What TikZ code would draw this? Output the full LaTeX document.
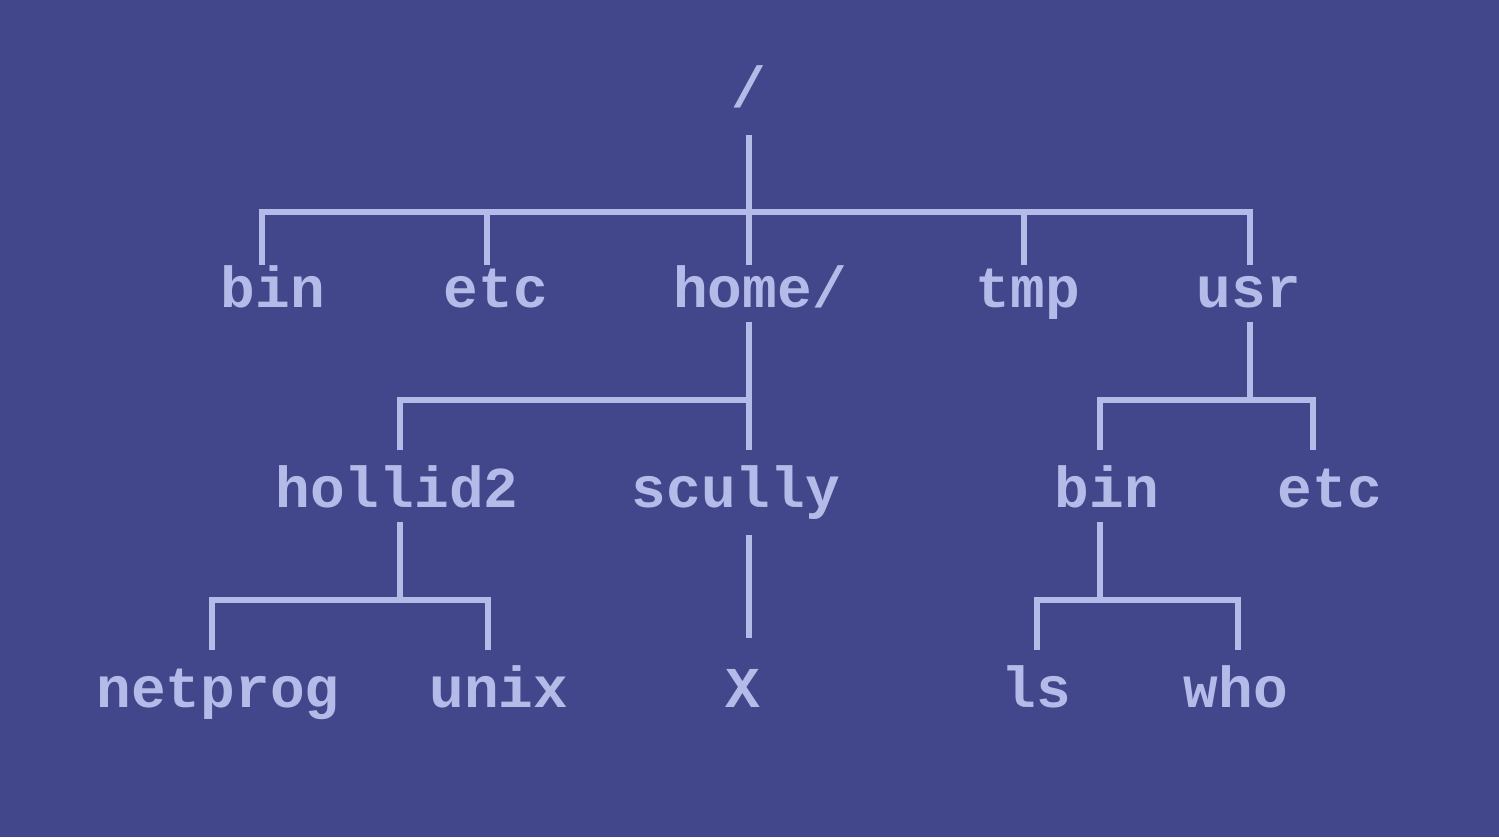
\documentclass[tikz,border=0pt]{standalone}
\usepackage{fontspec}
\setmainfont{Liberation Mono}
\definecolor{bgc}{RGB}{66,70,138}
\definecolor{fgc}{RGB}{180,187,232}
\tikzset{
  lbl/.style={anchor=base, inner sep=0pt, text=fgc, font=\fontsize{28.9}{30}\selectfont\bfseries},
  conn/.style={draw=fgc, line width=2.8pt, line join=miter, line cap=butt}
}
\begin{document}
\begin{tikzpicture}[x=0.5pt, y=-0.5pt]
\fill[bgc] (0,0) rectangle (1499,837);
\useasboundingbox (0,0) rectangle (1499,837);
% labels
\node[lbl] (root) at (749,107) {/};
\node[lbl] (bin) at (273,307) {bin};
\node[lbl] (etc) at (496,307) {etc};
\node[lbl] (home) at (760,307) {home/};
\node[lbl] (tmp) at (1028,307) {tmp};
\node[lbl] (usr) at (1249,307) {usr};
\node[lbl] (hollid) at (397,507) {hollid2};
\node[lbl] (scully) at (736,507) {scully};
\node[lbl] (ubin) at (1107,507) {bin};
\node[lbl] (uetc) at (1330,507) {etc};
\node[lbl] (netprog) at (218,707) {netprog};
\node[lbl] (unix) at (499,707) {unix};
\node[lbl] (X) at (743,707) {X};
\node[lbl] (ls) at (1036,707) {ls};
\node[lbl] (who) at (1236,707) {who};
% connector ends
\coordinate (root-o) at (749,135);
\coordinate (root-j) at (749,212);
\coordinate (bin-i) at (262,265);
\coordinate (etc-i) at (487,265);
\coordinate (home-i) at (749,265);
\coordinate (tmp-i) at (1024,265);
\coordinate (usr-i) at (1250,265);
\coordinate (home-o) at (749,322);
\coordinate (home-j) at (749,400);
\coordinate (hollid-i) at (400,450);
\coordinate (scully-i) at (749,450);
\coordinate (usr-o) at (1250,322);
\coordinate (usr-j) at (1250,400);
\coordinate (ubin-i) at (1100,450);
\coordinate (uetc-i) at (1313,450);
\coordinate (hollid-o) at (400,522);
\coordinate (hollid-j) at (400,600);
\coordinate (netprog-i) at (212,650);
\coordinate (unix-i) at (488,650);
\coordinate (scully-o) at (749,535);
\coordinate (X-i) at (749,638);
\coordinate (ubin-o) at (1100,522);
\coordinate (ubin-j) at (1100,600);
\coordinate (ls-i) at (1037,650);
\coordinate (who-i) at (1238,650);
% connectors
\draw[conn] (root-o) -- (root-j);
\draw[conn] (bin-i) |- (root-j) -| (usr-i);
\draw[conn] (etc-i) -- (etc-i |- root-j);
\draw[conn] (home-i) -- (root-j);
\draw[conn] (tmp-i) -- (tmp-i |- root-j);
\draw[conn] (home-o) -- (scully-i);
\draw[conn] (hollid-i) |- (home-j);
\draw[conn] (usr-o) -- (usr-j);
\draw[conn] (ubin-i) |- (usr-j) -| (uetc-i);
\draw[conn] (hollid-o) -- (hollid-j);
\draw[conn] (netprog-i) |- (hollid-j) -| (unix-i);
\draw[conn] (scully-o) -- (X-i);
\draw[conn] (ubin-o) -- (ubin-j);
\draw[conn] (ls-i) |- (ubin-j) -| (who-i);
\end{tikzpicture}
\end{document}
